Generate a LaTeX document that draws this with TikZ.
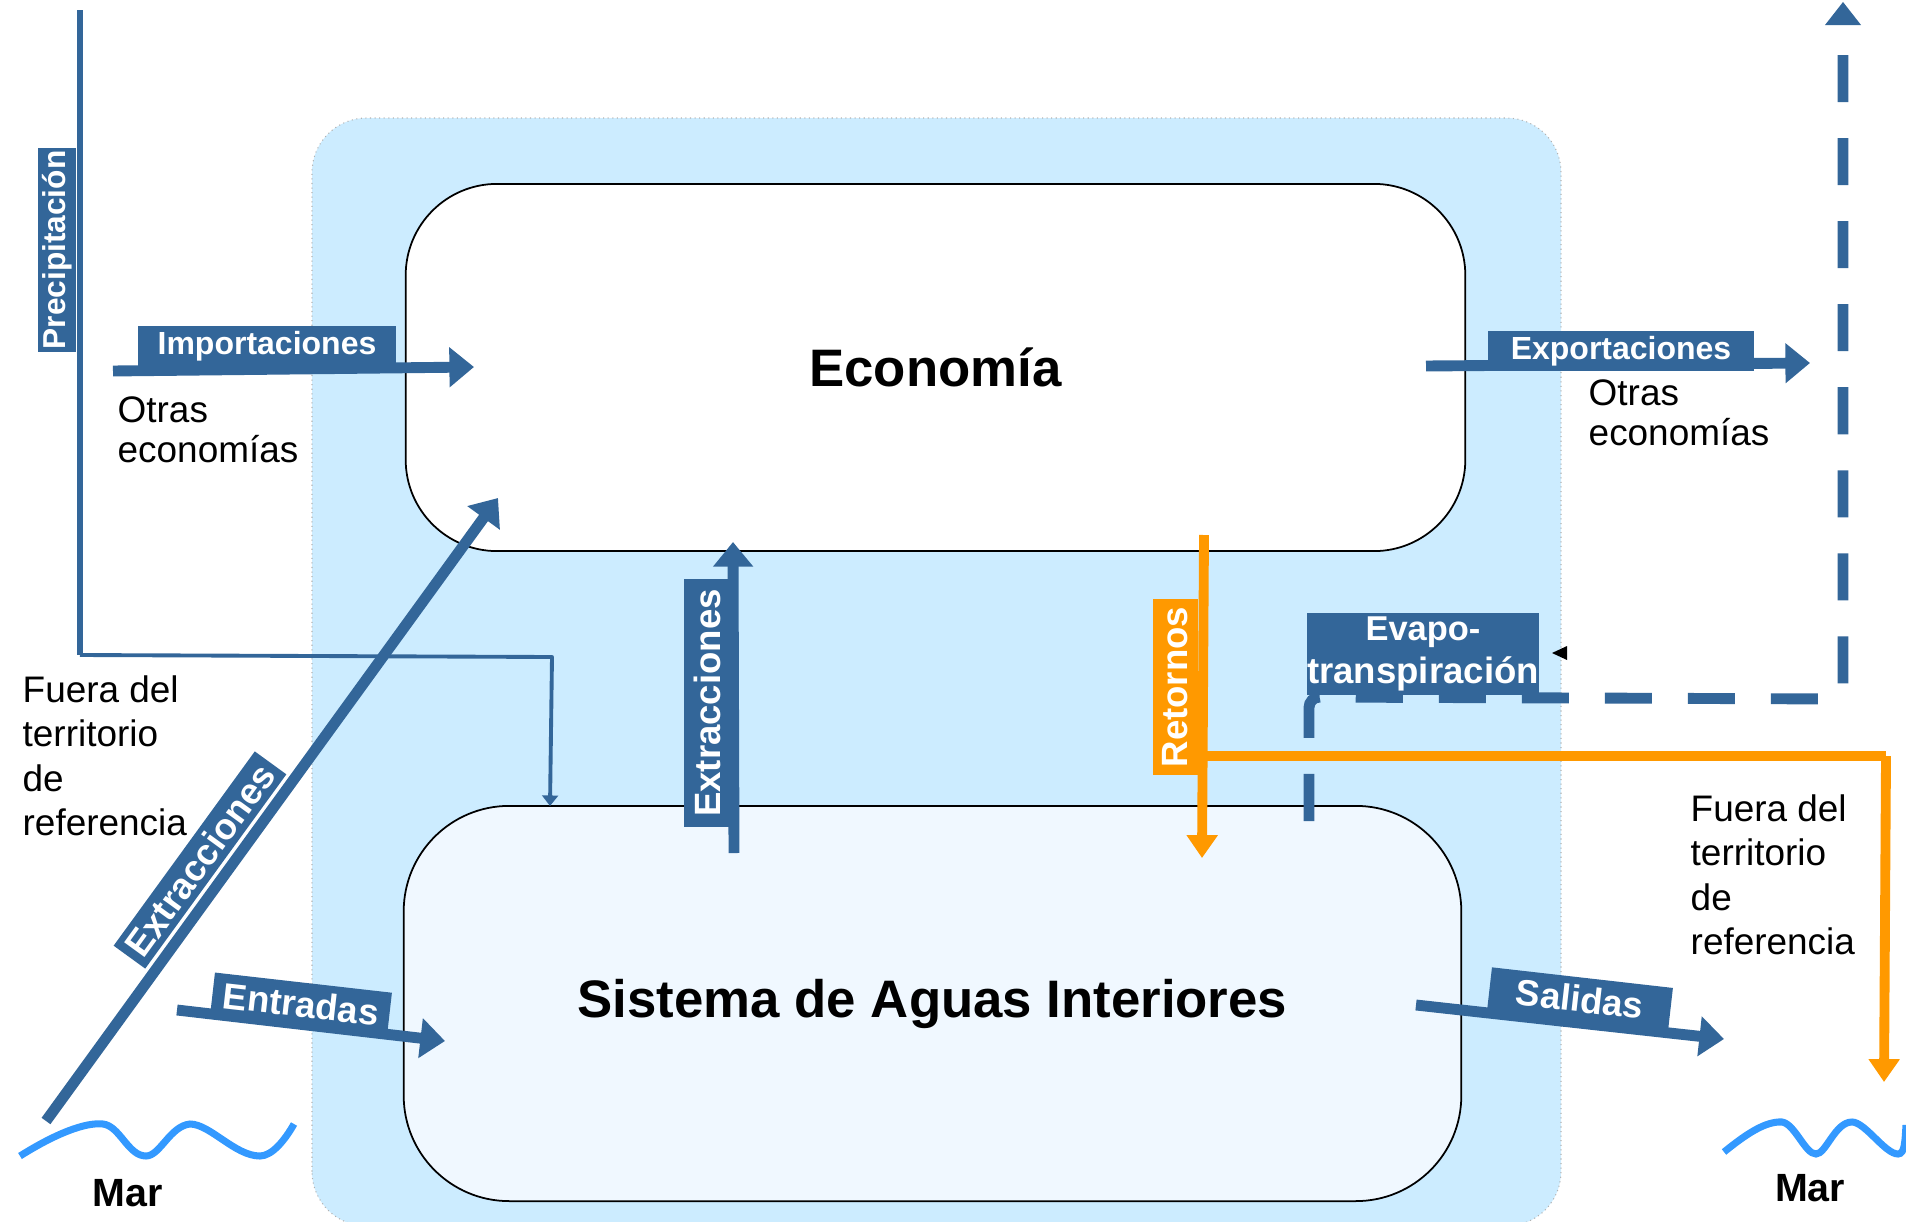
\documentclass[tikz,border=0pt]{standalone}
\usepackage{fontspec}
\setmainfont{Liberation Sans}
\usetikzlibrary{arrows.meta}
\definecolor{flujo}{HTML}{336699}
\definecolor{naranja}{HTML}{FF9900}
\definecolor{celeste}{HTML}{CCECFF}
\definecolor{palido}{HTML}{F0F8FF}
\definecolor{ola}{HTML}{3399FF}
\tikzset{
  zona/.style={draw=black,line width=0.5pt,inner sep=0pt,font=\fontsize{15}{18}\selectfont\bfseries},
  rotulo/.style={fill=flujo,text=white,inner sep=0pt,align=center,font=\fontsize{10.4}{12}\selectfont\bfseries},
  nota/.style={anchor=north west,inner sep=0pt,align=left,font=\fontsize{10.5}{12}\selectfont},
  flecha/.style={draw=flujo,line width=3.1pt,-{Triangle[length=7pt,width=11pt]}},
  retorno/.style={draw=naranja,line width=2.8pt,-{Triangle[length=6.5pt,width=8.5pt]}},
  ola/.style={draw=ola,line width=2pt}
}
\begin{document}
\begin{tikzpicture}[x=0.01cm,y=-0.01cm]
  \useasboundingbox (0,0) rectangle (1906,1221);
  \fill[celeste] (312,1226) [rounded corners=15.5pt] -- (312,118) -- (1561,118) -- (1561,1226) -- cycle;
  \draw[gray!60,densely dotted,line width=0.3pt] (312,1226) [rounded corners=15.5pt] -- (312,118) -- (1561,118) -- (1561,1226) -- cycle;
  \node [zona,fill=white,rounded corners=26pt,minimum width=1059\pgflinewidth*0+10.59cm,minimum height=3.67cm] (economia) at (935.5,367.5) {Econom\'ia};
  \node [zona,fill=palido,rounded corners=30pt,minimum width=10.57cm,minimum height=3.95cm] (sistema) at (932.5,1003.5) {Sistema de Aguas Interiores};
  % puntos sueltos
  \coordinate (lluvia) at (80,10);
  \coordinate (codo1) at (80,655);
  \coordinate (codo2) at (552,657);
  \coordinate (lluviafin) at (550,806);
  \coordinate (impa) at (113,371);
  \coordinate (impb) at (474,367);
  \coordinate (expa) at (1426,366);
  \coordinate (expb) at (1810,363);
  \coordinate (diaga) at (46,1121);
  \coordinate (diagb) at (498,498);
  \coordinate (verta) at (734,853);
  \coordinate (vertb) at (733,542);
  \coordinate (entra) at (177,1010);
  \coordinate (entrb) at (445,1041);
  \coordinate (sala) at (1416,1005);
  \coordinate (salb) at (1724,1039);
  \coordinate (reta) at (1204,535);
  \coordinate (retb) at (1202,858);
  \coordinate (retc) at (1198,756);
  \coordinate (retd) at (1886,756);
  \coordinate (rete) at (1884,1082);
  \coordinate (evaa) at (1309,821);
  \coordinate (evab) at (1309,697);
  \coordinate (evac) at (1843,699);
  \coordinate (evad) at (1843,25);
  \draw[flujo,line width=1.7pt] (lluvia) -- (codo1);
  \draw[flujo,line width=1.1pt,-{Triangle[length=3pt,width=4.5pt]},line join=round] (codo1) -- (codo2) -- (lluviafin);
  \draw[flecha] (impa) -- (impb);
  \draw[flecha] (expa) -- (expb);
  \draw[flecha] (diaga) -- (diagb);
  \draw[flecha] (verta) -- (vertb);
  \draw[flecha] (entra) -- (entrb);
  \draw[flecha] (sala) -- (salb);
  \node [rotulo,rotate=90,minimum width=2.04cm,minimum height=0.38cm] (precip) at (57,250) {\fontsize{9}{11}\selectfont Precipitaci\'on};
  \node [rotulo,minimum width=2.57cm,minimum height=0.39cm] (importa) at (267,346) {\fontsize{9.1}{11}\selectfont Importaciones};
  \node [rotulo,minimum width=2.66cm,minimum height=0.40cm] (exporta) at (1621,351) {\fontsize{9.1}{11}\selectfont Exportaciones};
  \node [rotulo,rotate=54,minimum width=2.40cm,minimum height=0.39cm] (extdiag) at (200,860) {Extracciones};
  \node [rotulo,rotate=90,minimum width=2.47cm,minimum height=0.46cm] (extvert) at (707,703) {Extracciones};
  \node [rotulo,rotate=-6.5,minimum width=1.78cm,minimum height=0.43cm] (entradas) at (301,1004) {Entradas};
  \node [rotulo,rotate=-6.5,minimum width=1.82cm,minimum height=0.43cm] (salidas) at (1580,999) {Salidas};
  \node [rotulo,minimum width=2.23cm,minimum height=0.81cm] (evapo) at (1423,654) {\fontsize{9.8}{13}\selectfont Evapo-\\transpiraci\'on};
  \draw[flujo,line width=3.1pt,dash pattern=on 47*0.2845pt off 36*0.2845pt,rounded corners=3pt] (evaa) -- (evab) -- (evac) -- (evad);
  \fill[flujo] (1843,2) -- (1861,25) -- (1825,25) -- cycle;
  \fill[black] (1552,653) -- (1567,646) -- (1567,660) -- cycle;
  \draw[retorno] (reta) -- (retb);
  \draw[retorno,-] (retc) -- (retd);
  \draw[retorno] (retd) -- (rete);
  \node [rotulo,fill=naranja,rotate=90,minimum width=1.76cm,minimum height=0.45cm] (retornos) at (1175,687) {Retornos};
  \node [nota] (otras1) at (117,396) {Otras\\[-0.5pt]econom\'ias};
  \node [nota] (otras2) at (1588,379) {Otras\\[-0.5pt]econom\'ias};
  \node [nota] (fuera1) at (22,675) {Fuera del\\[0.6pt]territorio\\[0.6pt]de\\[0.6pt]referencia};
  \node [nota] (fuera2) at (1690,794) {Fuera del\\[0.6pt]territorio\\[0.6pt]de\\[0.6pt]referencia};
  \draw[ola] (20,1156) .. controls (55,1134) and (85,1122) .. (103,1124) .. controls (120,1126) and (128,1156) .. (146,1156) .. controls (160,1156) and (170,1126) .. (190,1124) .. controls (210,1124) and (235,1156) .. (260,1156) .. controls (272,1156) and (285,1140) .. (294,1124);
  \draw[ola] (1724,1152) .. controls (1745,1135) and (1765,1121) .. (1782,1122) .. controls (1795,1124) and (1805,1154) .. (1816,1154) .. controls (1826,1154) and (1835,1122) .. (1852,1122) .. controls (1865,1122) and (1885,1154) .. (1898,1154) .. controls (1905,1154) and (1905,1140) .. (1906,1125);
  \node [inner sep=0pt,font=\fontsize{11.2}{13}\selectfont\bfseries] (mar1) at (128,1193) {Mar};
  \node [inner sep=0pt,font=\fontsize{11.2}{13}\selectfont\bfseries] (mar2) at (1810,1188) {Mar};
\end{tikzpicture}
\end{document}
